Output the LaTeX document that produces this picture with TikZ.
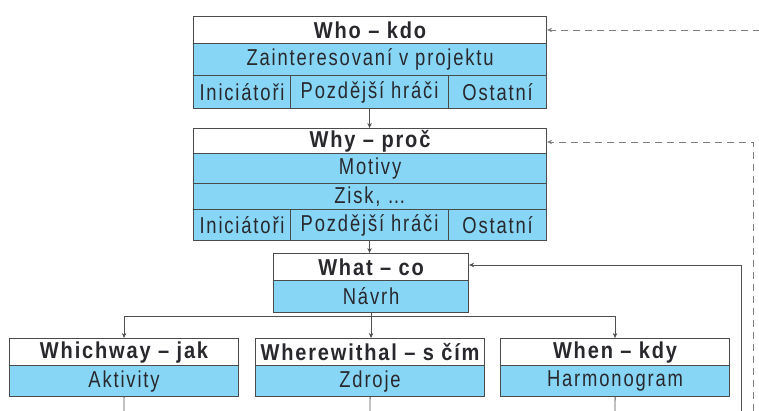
\documentclass[tikz,border=0pt]{standalone}
\usepackage{fontspec}
\setmainfont{Liberation Sans}[FakeStretch=0.8,LetterSpace=8,BoldFeatures={FakeStretch=0.87}]
\usetikzlibrary{arrows.meta}
\definecolor{cellblue}{RGB}{135,214,245}
\definecolor{framec}{RGB}{75,75,75}
\definecolor{connc}{RGB}{80,80,80}
\definecolor{dashc}{RGB}{125,125,125}
\definecolor{txtc}{RGB}{40,40,45}
\tikzset{
  cell/.style={draw=framec, line width=1.1pt, anchor=north west, inner sep=0pt,
    text=txtc, font=\fontsize{23}{24}\selectfont},
  hdrcell/.style={cell, fill=white, font=\fontsize{23}{24}\selectfont\bfseries},
  bluecell/.style={cell, fill=cellblue},
  link/.style={draw=connc, line width=0.9pt, -{Stealth[length=5pt,width=4.5pt]}},
  plainline/.style={draw=connc, line width=0.9pt},
  fbline/.style={draw=dashc, line width=1pt, dash pattern=on 7pt off 5pt, -{Stealth[length=5pt,width=4.5pt]}},
}
\begin{document}
\begin{tikzpicture}[x=1pt,y=-1pt]
\useasboundingbox (0,0) rectangle (759,410);
% Who
\node[hdrcell, minimum width=353pt, minimum height=27pt] (whoH) at (193,16) {Who -- kdo};
\node[bluecell, minimum width=353pt, minimum height=32pt] (whoA) at (193,43) {Zainteresovaní v projektu};
\node[bluecell, minimum width=97pt, minimum height=33pt] (whoL) at (193,75) {Iniciátoři};
\node[bluecell, minimum width=158pt, minimum height=33pt] (whoC) at (290,75) {Pozdější hráči};
\node[bluecell, minimum width=98pt, minimum height=33pt] (whoR) at (448,75) {Ostatní};
% Why
\node[hdrcell, minimum width=353pt, minimum height=25pt] (whyH) at (193,128) {Why -- proč};
\node[bluecell, minimum width=353pt, minimum height=30pt] (whyA) at (193,153) {Motivy};
\node[bluecell, minimum width=353pt, minimum height=26pt] (whyB) at (193,183) {Zisk, \dots};
\node[bluecell, minimum width=97pt, minimum height=31pt] (whyL) at (193,209) {Iniciátoři};
\node[bluecell, minimum width=158pt, minimum height=31pt] (whyC) at (290,209) {Pozdější hráči};
\node[bluecell, minimum width=98pt, minimum height=31pt] (whyR) at (448,209) {Ostatní};
% What
\node[hdrcell, minimum width=195pt, minimum height=27pt] (whatH) at (273,253) {What -- co};
\node[bluecell, minimum width=195pt, minimum height=32pt] (whatB) at (273,280) {Návrh};
% Lower row
\node[hdrcell, minimum width=229pt, minimum height=27pt] (jakH) at (9,338) {Whichway -- jak};
\node[bluecell, minimum width=229pt, minimum height=31pt] (jakB) at (9,365) {Aktivity};
\node[hdrcell, minimum width=229pt, minimum height=27pt] (cimH) at (255,338) {Wherewithal -- s čím};
\node[bluecell, minimum width=229pt, minimum height=31pt] (cimB) at (255,365) {Zdroje};
\node[hdrcell, minimum width=229pt, minimum height=27pt] (kdyH) at (500,338) {When -- kdy};
\node[bluecell, minimum width=229pt, minimum height=31pt] (kdyB) at (500,365) {Harmonogram};
% coordinates
\coordinate (split) at (370,316);
\coordinate (jakEnd) at (124,411);
\coordinate (cimEnd) at (370,411);
\coordinate (kdyEnd) at (615,411);
\coordinate (loopBot) at (741,411);
\coordinate (loopTop) at (741,265);
\coordinate (dashTopFar) at (760,30);
\coordinate (dashMidCorner) at (753,142);
\coordinate (dashMidBot) at (753,411);
% vertical flow
\draw[link] (whoC.south) -- (whoC.south |- whyH.north);
\draw[link] (whyC.south) -- (whyC.south |- whatH.north);
\draw[link] (whatB.south) -- (whatB.south |- cimH.north);
\draw[link] (split) -| (jakH.north);
\draw[link] (split) -| (kdyH.north);
% lines leaving the bottom
\draw[plainline] (jakB.south) -- (jakEnd);
\draw[plainline] (cimB.south) -- (cimEnd);
\draw[plainline] (kdyB.south) -- (kdyEnd);
% solid feedback to What
\draw[link] (loopBot) -- (loopTop) -- (loopTop -| whatH.east);
% dashed feedback
\draw[fbline] (dashTopFar) -- (dashTopFar -| whoH.east);
\draw[fbline] (dashMidBot) -- (dashMidCorner) -- (dashMidCorner -| whyH.east);
\end{tikzpicture}
\end{document}
